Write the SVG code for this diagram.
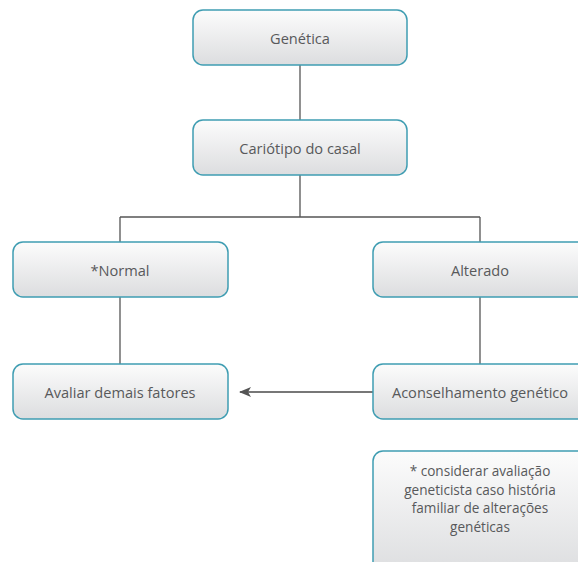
<svg xmlns="http://www.w3.org/2000/svg" width="578" height="562" viewBox="0 0 578 562">
<defs>
<linearGradient id="g" x1="0" y1="0" x2="0" y2="1">
<stop offset="0" stop-color="#fcfcfc"/>
<stop offset="1" stop-color="#dcdddf"/>
</linearGradient>
<marker id="ah" markerWidth="12" markerHeight="10" refX="11" refY="5" orient="auto" markerUnits="userSpaceOnUse">
<path d="M0,0 L12,5 L0,10 L3,5 Z" fill="#555"/>
</marker>
<style>
.box{fill:url(#g);stroke:#3f9db2;stroke-width:1.5}
.t{font-family:"Open Sans","Noto Sans",sans-serif;font-size:14.6px;fill:#58595b;text-anchor:middle}
.n{font-size:13.6px}
.c{fill:none;stroke:#555;stroke-width:1.3}
</style>
</defs>
<rect width="578" height="562" fill="#fff"/>
<g id="connectors">
<path class="c" d="M300,65 V120"/>
<path class="c" d="M300,175 V217 M120,217 H480 M120,217 V242 M480,217 V242"/>
<path class="c" d="M120,297 V364"/>
<path class="c" d="M480,297 V364"/>
<path d="M373,392 H240" fill="none" stroke="#777" stroke-width="2" marker-end="url(#ah)"/>
</g>
<g id="genetica">
<rect class="box" x="193" y="10" width="214" height="55" rx="10"/>
<text class="t" x="300" y="43.5">Genética</text>
</g>
<g id="cariotipo">
<rect class="box" x="193" y="120" width="214" height="55" rx="10"/>
<text class="t" x="300" y="153.5">Cariótipo do casal</text>
</g>
<g id="normal">
<rect class="box" x="13" y="242" width="215" height="55" rx="10"/>
<text class="t" x="120" y="275.5">*Normal</text>
</g>
<g id="alterado">
<rect class="box" x="373" y="242" width="214" height="55" rx="10"/>
<text class="t" x="480" y="275.5">Alterado</text>
</g>
<g id="avaliar">
<rect class="box" x="13" y="364" width="215" height="55" rx="10"/>
<text class="t" x="120" y="397.5">Avaliar demais fatores</text>
</g>
<g id="aconselhamento">
<rect class="box" x="373" y="364" width="214" height="55" rx="10"/>
<text class="t" x="480" y="397.5">Aconselhamento genético</text>
</g>
<g id="nota">
<rect class="box" x="373" y="451" width="214" height="125" rx="10"/>
<text class="t n" x="480" y="476">* considerar avaliação</text>
<text class="t n" x="480" y="494.5">geneticista caso história</text>
<text class="t n" x="480" y="513">familiar de alterações</text>
<text class="t n" x="480" y="531.5">genéticas</text>
</g>
</svg>
